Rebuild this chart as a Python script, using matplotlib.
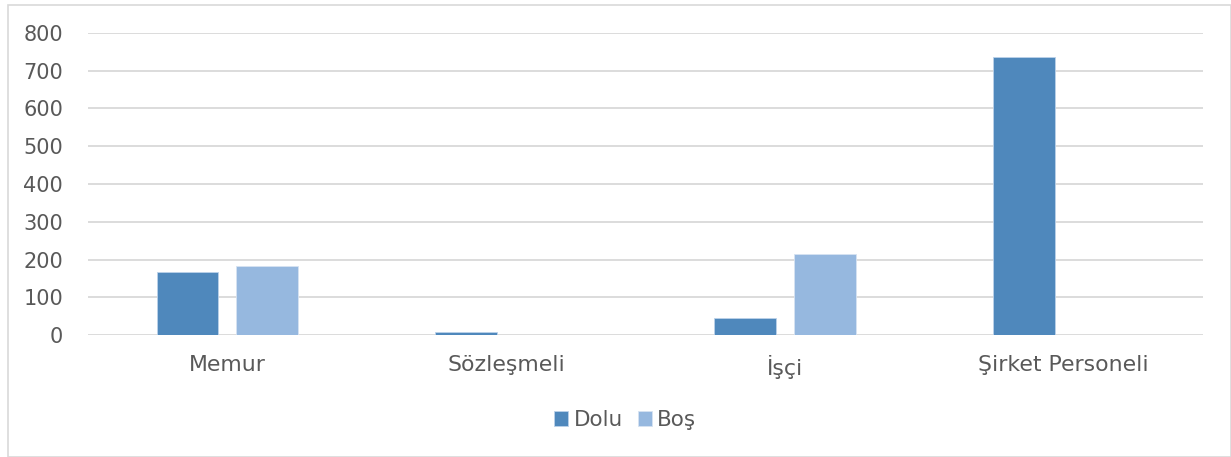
import matplotlib
matplotlib.use("Agg")
import matplotlib.pyplot as plt
import numpy as np
from matplotlib.patches import Rectangle

categories = ["Memur", "Sözleşmeli", "İşçi", "Şirket Personeli"]
dolu = [168, 10, 47, 735]
bos = [183, 0, 216, 0]
yticks = [0, 100, 200, 300, 400, 500, 600, 700, 800]

plt.rcParams['font.family'] = ['DejaVu Sans']
W, H = 1231, 457
fig = plt.figure(figsize=(W/100, H/100), dpi=100)
ax = fig.add_axes([88/W, 1-335.3/H, (1203-88)/W, (335.3-32.7)/H])

x = np.arange(len(categories))
bw = 0.222
off = 0.143
c1, c2 = "#4f88bc", "#96b8df"
ax.bar(x - off, dolu, bw, color=c1, edgecolor="#bcd2ea", linewidth=0.6, label="Dolu", zorder=3)
ax.bar(x + off, bos, bw, color=c2, edgecolor="#d6e3f2", linewidth=0.6, label="Boş", zorder=3)

ax.set_xlim(-0.5, len(categories) - 0.5)
ax.set_ylim(0, 800)
ax.set_yticks(yticks)
ax.set_xticks(x)
ax.set_xticklabels(categories)
ax.grid(axis='y', color="#d9d9d9", linewidth=1.3, zorder=0)
for s in ax.spines.values():
    s.set_visible(False)
ax.tick_params(axis='both', length=0, colors="#595959")
ax.tick_params(axis='y', pad=18, labelsize=15)
ax.tick_params(axis='x', pad=14, labelsize=15.8)

leg = fig.legend(loc='center', bbox_to_anchor=(0.508, 1-420/H), ncol=2, frameon=False,
                 fontsize=15.5, handlelength=0.65, handleheight=0.65, handletextpad=0.25,
                 columnspacing=0.7, labelcolor="#595959")

fig.patches.append(Rectangle((8/W, 0), 1 - 8/W, 1 - 5/H, transform=fig.transFigure,
                             fill=False, edgecolor="#d9d9d9", linewidth=1.2))

fig.savefig("out.png", dpi=100)
